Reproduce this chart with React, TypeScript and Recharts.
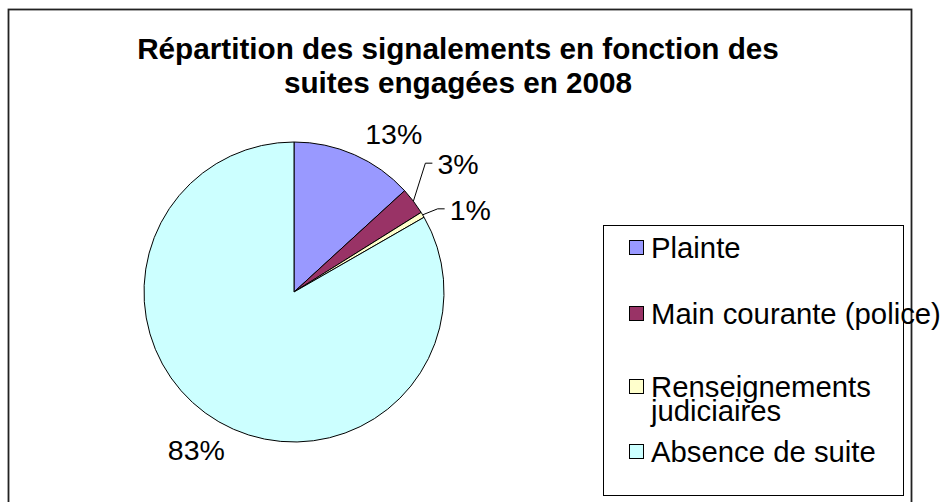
import React from "react";
import { PieChart, Pie, Cell, Legend, Customized } from "recharts";

const categories = ["Plainte", "Main courante (police)", "Renseignements judiciaires", "Absence de suite"];
const shares = [13.2, 2.9, 0.6, 83.3];
const colors = ["#9999FF", "#993366", "#FFFFCC", "#CCFFFF"];
const titleLines = ["Répartition des signalements en fonction des", "suites engagées en 2008"];

// label nudges (px) relative to computed anchor; small slices get a leader line
const labelNudge: [number, number][] = [[6, 0], [12, -38], [15, -6], [12, 8]];
const withLeader = [false, true, true, false];
const legendTops = [10, 76, 149, 214];

const data = categories.map((name, i) => ({ name, value: shares[i] }));

const FONT = "'Liberation Sans', Arial, sans-serif";
const RADIAN = Math.PI / 180;

const renderLabel = (props: any) => {
  const { cx, cy, midAngle, outerRadius, percent, index } = props;
  const cos = Math.cos(-midAngle * RADIAN);
  const sin = Math.sin(-midAngle * RADIAN);
  const text = `${Math.round(percent * 100)}%`;
  const [nx, ny] = labelNudge[index];
  if (withLeader[index]) {
    const ex = cx + outerRadius * cos;
    const ey = cy + outerRadius * sin;
    const bx = ex + nx;
    const by = ey + ny;
    return (
      <g>
        <polyline points={`${ex},${ey} ${bx},${by} ${bx + 7},${by}`} fill="none" stroke="#000" strokeWidth={1} />
        <text x={bx + 12} y={by + 11} fontFamily={FONT} fontSize={28.5} fill="#000">{text}</text>
      </g>
    );
  }
  const r = outerRadius + 12;
  const ax = cx + r * cos + nx;
  const ay = cy + r * sin + ny;
  return (
    <text
      x={ax}
      y={sin < 0 ? ay : ay + 20}
      textAnchor={cos >= 0 ? "start" : "end"}
      fontFamily={FONT}
      fontSize={28.5}
      fill="#000"
    >
      {text}
    </text>
  );
};

const renderLegend = () => (
  <div style={{ position: "relative", width: 301, height: 271, border: "1px solid #000", boxSizing: "border-box", fontFamily: FONT, fontSize: 29.3, lineHeight: "24px", color: "#000" }}>
    {categories.map((name, i) => (
      <div key={name} style={{ position: "absolute", left: 0, top: legendTops[i] }}>
        <span style={{ position: "absolute", left: 25, top: 4, width: 13, height: 13, background: colors[i], border: "1px solid #000" }} />
        <span style={{ position: "absolute", left: 47, top: 0, width: 250, whiteSpace: name.length > 24 ? "normal" : "nowrap", textAlign: "left" }}>{name}</span>
      </div>
    ))}
  </div>
);

const Frame = () => (
  <g>
    <rect x={8.5} y={9.5} width={903} height={500} fill="none" stroke="#222" strokeWidth={1.8} />
    {titleLines.map((line, i) => (
      <text key={i} x={458} y={59 + i * 34} textAnchor="middle" fontFamily={FONT} fontWeight="bold" fontSize={29.7} fill="#000">
        {line}
      </text>
    ))}
  </g>
);

export default function App() {
  return (
    <div style={{ position: "absolute", left: 0, top: 0, width: 946, height: 502, background: "#fff" }}>
      <PieChart width={946} height={502} margin={{ top: 0, right: 0, bottom: 0, left: 0 }}>
        <Customized component={Frame} />
        <Pie
          data={data}
          dataKey="value"
          nameKey="name"
          cx={294}
          cy={292}
          outerRadius={150}
          startAngle={90}
          endAngle={-270}
          stroke="#000"
          strokeWidth={1}
          label={renderLabel}
          labelLine={false}
          isAnimationActive={false}
        >
          {data.map((d, i) => (
            <Cell key={d.name} fill={colors[i]} />
          ))}
        </Pie>
        <Legend
          layout="vertical"
          align="center"
          verticalAlign="middle"
          content={renderLegend}
          wrapperStyle={{ position: "absolute", left: 603, top: 225, width: 301, height: 271 }}
        />
      </PieChart>
    </div>
  );
}
